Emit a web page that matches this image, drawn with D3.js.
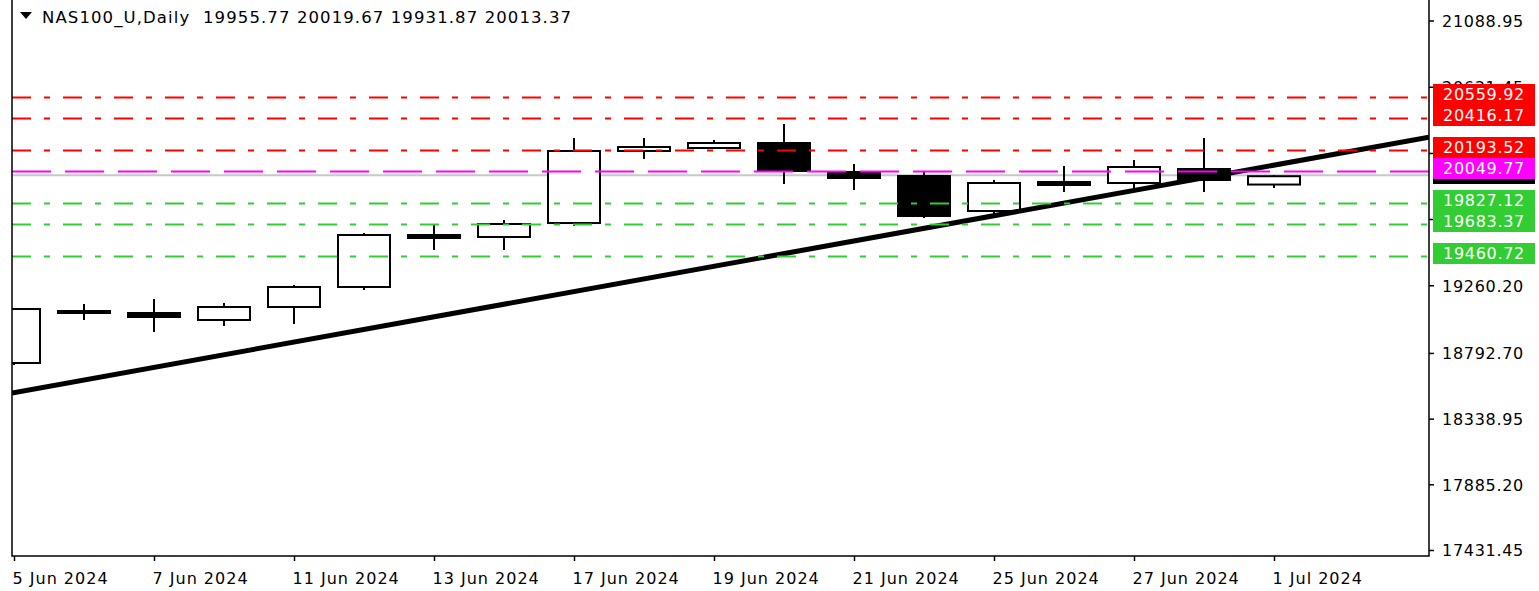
<!DOCTYPE html>
<html>
<head>
<meta charset="utf-8">
<title>NAS100_U Daily</title>
<script src="https://d3js.org/d3.v7.min.js"></script>
<style>
  body { margin: 0; background: #fff; }
  svg text { font-family: "DejaVu Sans", sans-serif; font-size: 16px; letter-spacing: 0.7px; }
</style>
</head>
<body>
<svg id="chart" width="1539" height="591"></svg>
<script>
// daily bars
var dates = ["5 Jun 2024", "6 Jun 2024", "7 Jun 2024", "10 Jun 2024", "11 Jun 2024", "12 Jun 2024",
  "13 Jun 2024", "14 Jun 2024", "17 Jun 2024", "18 Jun 2024", "19 Jun 2024", "20 Jun 2024",
  "21 Jun 2024", "24 Jun 2024", "25 Jun 2024", "26 Jun 2024", "27 Jun 2024", "28 Jun 2024", "1 Jul 2024"];
var open  = [18723.2, 19082.3, 19068.5, 19020.2, 19110.0, 19248.2, 19607.3, 19593.5, 19690.0, 20187.6,
  20208.3, 20242.8, 20042.5, 20014.9, 19773.1, 19973.4, 19966.5, 20063.2, 19955.77];
var high  = [19100.0, 19130.7, 19165.3, 19137.6, 19262.0, 19621.2, 19683.3, 19711.0, 20277.4, 20277.4,
  20263.6, 20374.0, 20097.7, 20042.5, 19987.2, 20083.9, 20125.4, 20277.4, 20019.67];
var low   = [18709.3, 19020.2, 18937.3, 18978.7, 18992.6, 19227.4, 19503.7, 19503.7, 19669.5, 20132.3,
  20205.0, 19959.6, 19918.2, 19724.8, 19752.3, 19904.3, 19918.2, 19904.3, 19931.87];
var close = [19096.1, 19068.5, 19040.9, 19110.0, 19248.2, 19607.3, 19586.6, 19683.3, 20187.6, 20215.2,
  20242.8, 20049.4, 20001.0, 19738.6, 19966.5, 19952.7, 20077.0, 19987.2, 20013.37];

var priceTicks = [21088.95, 20631.45, 20173.95, 19717.70, 19260.20, 18792.70, 18338.95, 17885.20, 17431.45];
var hiddenTicks = [20173.95, 19717.70]; // covered by the level labels
var dateTicks = [0, 2, 4, 6, 8, 10, 12, 14, 16, 18];

var redLevels = [20559.92, 20416.17, 20193.52];
var greenLevels = [19827.12, 19683.37, 19460.72];
var pivotLevel = [20049.77];
// trend line anchors: [bar index, price]
var trendPoints = [[0, 18518.6], [18, 20089.5]];

var svg = d3.select("#chart");
var pLeft = 12, pRight = 1429, pTop = 0, pBottom = 556;

var x = d3.scaleLinear().domain([-2 / 70, (pRight - 14) / 70]).range([pLeft, pRight]);
var y = d3.scaleLinear().domain([17431.45, 21088.95]).range([550, 20.5]);
var fmt = d3.format(".2f");

svg.append("defs").append("clipPath").attr("id", "plot")
  .append("rect").attr("x", pLeft).attr("y", pTop).attr("width", pRight - pLeft).attr("height", pBottom - pTop);

var g = svg.append("g").attr("clip-path", "url(#plot)");

var last = close[close.length - 1];

// bid line
g.append("line")
  .attr("x1", pLeft).attr("x2", pRight)
  .attr("y1", y(last) - 1).attr("y2", y(last) - 1)
  .attr("stroke", "#c8c8c8").attr("stroke-width", 2);

// candles
var bars = d3.range(dates.length);
g.selectAll(".wick").data(bars).enter().append("line")
  .attr("x1", function(i) { return x(i); })
  .attr("x2", function(i) { return x(i); })
  .attr("y1", function(i) { return y(high[i]); })
  .attr("y2", function(i) { return y(low[i]); })
  .attr("stroke", "#000").attr("stroke-width", 2);

g.selectAll(".body").data(bars).enter().append("rect")
  .attr("x", function(i) { return x(i) - 26; })
  .attr("width", 52)
  .attr("y", function(i) { return y(Math.max(open[i], close[i])); })
  .attr("height", function(i) { return Math.max(1, Math.abs(y(open[i]) - y(close[i]))); })
  .attr("fill", function(i) { return close[i] >= open[i] ? "#fff" : "#000"; })
  .attr("stroke", "#000").attr("stroke-width", 2);

// trend line, extended across the plot
var slope = (trendPoints[1][1] - trendPoints[0][1]) / (trendPoints[1][0] - trendPoints[0][0]);
var i0 = x.invert(pLeft), i1 = x.invert(pRight);
g.append("line")
  .attr("x1", x(i0)).attr("y1", y(trendPoints[0][1] + slope * (i0 - trendPoints[0][0])))
  .attr("x2", x(i1)).attr("y2", y(trendPoints[0][1] + slope * (i1 - trendPoints[0][0])))
  .attr("stroke", "#000").attr("stroke-width", 5);

function hline(values, color, dash) {
  g.selectAll(null).data(values).enter().append("line")
    .attr("x1", pLeft).attr("x2", pRight)
    .attr("y1", function(d) { return Math.round(y(d)) + 0.5; })
    .attr("y2", function(d) { return Math.round(y(d)) + 0.5; })
    .attr("stroke", color).attr("stroke-width", 2)
    .attr("stroke-dasharray", dash);
}
hline(redLevels, "#ff0000", "19,13,6,13");
hline(greenLevels, "#32cd32", "19,13,6,13");
hline(pivotLevel, "#ff00ff", "39,14");

// frame
svg.append("path")
  .attr("d", "M" + pLeft + "," + pTop + "V" + pBottom + "H" + pRight + "V" + pTop)
  .attr("fill", "none").attr("stroke", "#000").attr("stroke-width", 1.5);

// price axis
var yAxis = svg.append("g")
  .attr("transform", "translate(" + pRight + ",0)")
  .call(d3.axisRight(y).tickValues(priceTicks)
    .tickFormat(function(d) { return hiddenTicks.indexOf(d) >= 0 ? "" : fmt(d); })
    .tickSize(5).tickPadding(8));
yAxis.select(".domain").remove();
yAxis.selectAll("line").attr("stroke", "#000").attr("stroke-width", 1.5);
yAxis.selectAll("text").attr("fill", "#000").attr("dy", "0.36em").style("font-size", "16px")
  .attr("font-family", null);

// date axis
var xAxis = svg.append("g")
  .attr("transform", "translate(0," + pBottom + ")")
  .call(d3.axisBottom(x).tickValues(dateTicks).tickFormat(function(i) { return dates[i]; }).tickSize(5));
xAxis.select(".domain").remove();
xAxis.selectAll("line").attr("stroke", "#000").attr("stroke-width", 1.5);
xAxis.selectAll("text").attr("fill", "#000").attr("text-anchor", "start")
  .attr("x", -2).attr("y", 22).attr("dy", "0.36em").style("font-size", "16px")
  .style("letter-spacing", "1px").attr("font-family", null);

// price labels on the axis
function priceLabel(v, bg) {
  var yy = Math.round(y(v));
  svg.append("rect")
    .attr("x", 1433).attr("y", yy - 13).attr("width", 102).attr("height", 21)
    .attr("fill", bg);
  svg.append("text")
    .attr("x", 1443).attr("y", yy - 2.5).attr("dy", "0.36em")
    .attr("fill", "#fff").text(fmt(v));
}
priceLabel(last, "#000");
redLevels.forEach(function(v) { priceLabel(v, "#ff0000"); });
greenLevels.forEach(function(v) { priceLabel(v, "#32cd32"); });
pivotLevel.forEach(function(v) { priceLabel(v, "#ff00ff"); });

// title
svg.append("path").attr("d", "M20,12H32L26,19Z").attr("fill", "#000");
svg.append("text").attr("x", 42).attr("y", 23).attr("fill", "#000")
  .attr("xml:space", "preserve")
  .style("font-size", "16.5px").style("letter-spacing", "1.1px")
  .text("NAS100_U,Daily  " + [open, high, low, close].map(function(a) { return fmt(a[a.length - 1]); }).join(" "));
</script>
</body>
</html>
